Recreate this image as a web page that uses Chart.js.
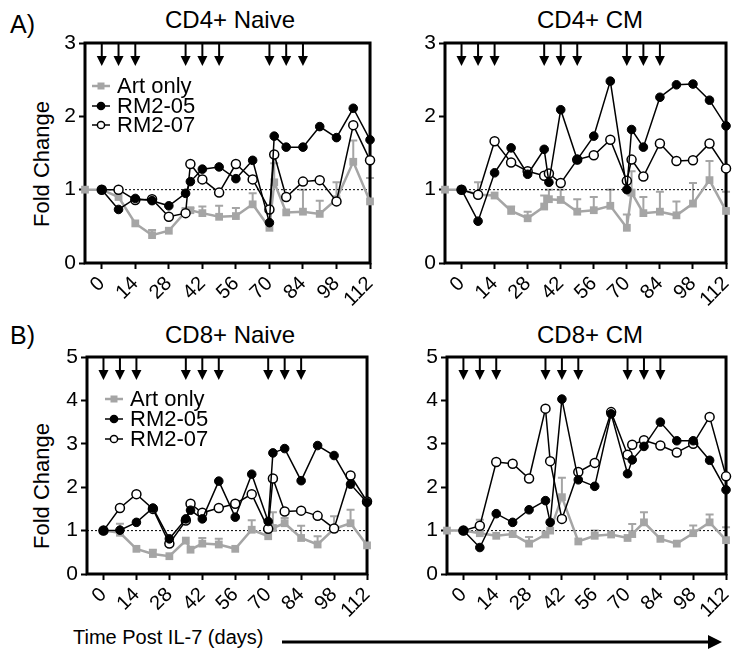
<!DOCTYPE html>
<html>
<head>
<meta charset="utf-8">
<script src="https://cdn.jsdelivr.net/npm/chart.js@4.4.1/dist/chart.umd.min.js"></script>
<style>
body { margin: 0; background: #fff; font-family: "Liberation Sans", Arial, sans-serif; }
#page { position: relative; width: 746px; height: 656px; overflow: hidden; background: #fff; }
.box { position: absolute; }
.txt { position: absolute; white-space: nowrap; line-height: 1; color: #000; }
.title { font-size: 24px; text-align: center; width: 260px; }
</style>
</head>
<body>
<div id="page">
  <div class="txt" style="left:10px;top:12px;font-size:25px;">A)</div>
  <div class="txt" style="left:10px;top:323px;font-size:25px;">B)</div>

  <div class="txt title" style="left:100px;top:8px;">CD4+ Naive</div>
  <div class="txt title" style="left:460px;top:8px;">CD4+ CM</div>
  <div class="txt title" style="left:100px;top:323px;">CD8+ Naive</div>
  <div class="txt title" style="left:460px;top:323px;">CD8+ CM</div>

  <div class="txt" style="left:42px;top:164px;font-size:22px;transform:translate(-50%,-50%) rotate(-90deg);">Fold Change</div>
  <div class="txt" style="left:42px;top:486px;font-size:22px;transform:translate(-50%,-50%) rotate(-90deg);">Fold Change</div>

  <div class="txt" style="left:73px;top:627px;font-size:20px;">Time Post IL-7 (days)</div>
  <svg class="box" style="left:280px;top:630px;" width="450" height="24">
    <line x1="2" y1="12" x2="432" y2="12" stroke="#000" stroke-width="3"/>
    <polygon points="428,5 442,12 428,19" fill="#000"/>
  </svg>

  <div class="box" style="left:40px;top:25px;width:350px;height:300px;"><canvas id="cd4Naive"></canvas></div>
  <div class="box" style="left:400px;top:25px;width:346px;height:300px;"><canvas id="cd4CM"></canvas></div>
  <div class="box" style="left:42px;top:339px;width:345px;height:297px;"><canvas id="cd8Naive"></canvas></div>
  <div class="box" style="left:402px;top:339px;width:344px;height:297px;"><canvas id="cd8CM"></canvas></div>
</div>

<script>
const days = [-7, 0, 7, 14, 21, 28, 35, 37, 42, 49, 56, 63, 70, 72, 77, 84, 91, 98, 105, 112];
const xTicks = [0, 14, 28, 42, 56, 70, 84, 98, 112];
const doseDays = [0, 7, 14, 35, 42, 49, 70, 77, 84];

// CD4+ Naive
const cd4NaiveArt = [1.0, 1.0, 0.90, 0.54, 0.38, 0.44, 0.70, 0.72, 0.68, 0.63, 0.64, 0.80, 0.48, 1.10, 0.69, 0.70, 0.67, 0.87, 1.38, 0.84];
const cd4NaiveArtErr = [null, null, null, null, 0.45, null, 0.75, 0.75, 0.77, 0.78, 0.75, 0.95, null, 1.36, null, 1.0, 0.85, 1.1, 1.67, 1.16];
const cd4Naive05 = [null, 1.0, 0.73, 0.88, 0.85, 0.78, 0.95, 1.11, 1.28, 1.31, 1.15, 1.40, 0.55, 1.73, 1.58, 1.58, 1.86, 1.71, 2.11, 1.68];
const cd4Naive07 = [null, 1.0, 1.0, 0.86, 0.87, 0.63, 0.68, 1.35, 1.14, 0.96, 1.35, 1.14, 0.73, 1.48, 0.90, 1.11, 1.13, 0.84, 1.88, 1.40];

// CD4+ CM
const cd4CMArt = [1.0, 1.0, 0.93, 0.92, 0.71, 0.61, 0.77, 0.87, 0.86, 0.70, 0.72, 0.78, 0.48, 0.96, 0.68, 0.70, 0.65, 0.81, 1.13, 0.71];
const cd4CMArtErr = [null, null, 1.1, null, 0.77, 0.70, 0.92, 1.0, 1.0, 0.87, 0.90, 1.0, 0.66, 1.25, 0.90, 0.97, 0.84, 1.09, 1.39, 0.97];
const cd4CM05 = [null, 1.0, 0.57, 1.23, 1.57, 1.21, 1.55, 1.10, 2.09, 1.41, 1.73, 2.48, 1.0, 1.82, 1.58, 2.26, 2.43, 2.44, 2.22, 1.87];
const cd4CM07 = [null, 1.0, 0.93, 1.66, 1.37, 1.25, 1.19, 1.22, 1.09, 1.41, 1.47, 1.68, 1.12, 1.41, 1.18, 1.63, 1.39, 1.40, 1.63, 1.29];

// CD8+ Naive
const cd8NaiveArt = [null, 1.0, 0.95, 0.58, 0.46, 0.41, 0.77, 0.56, 0.70, 0.68, 0.58, 1.02, 0.87, 1.06, 1.17, 0.83, 0.68, 1.04, 1.17, 0.66];
const cd8NaiveArtErr = [null, null, 1.16, null, 0.56, null, null, null, 0.83, 0.81, null, 1.24, null, 1.42, 1.29, 1.11, 0.87, 1.33, 1.48, null];
const cd8Naive05 = [null, 1.0, 1.01, 1.19, 1.52, 0.81, 1.27, 1.47, 1.27, 2.14, 1.31, 2.30, 1.21, 2.79, 2.89, 2.15, 2.96, 2.73, 2.07, 1.65];
const cd8Naive07 = [null, 1.0, 1.52, 1.84, 1.50, 0.70, 1.23, 1.62, 1.41, 1.52, 1.62, 1.84, 1.04, 2.20, 1.44, 1.46, 1.34, 1.05, 2.27, 1.67];

// CD8+ CM
const cd8CMArt = [1.0, 1.0, 0.94, 0.88, 0.92, 0.70, 0.91, 1.0, 1.77, 0.75, 0.88, 0.91, 0.83, 0.92, 1.19, 0.81, 0.70, 0.94, 1.19, 0.78];
const cd8CMArtErr = [null, null, 1.25, null, null, 0.85, null, null, 2.22, null, 1.0, null, null, 1.15, 1.42, null, null, 1.12, 1.37, 1.08];
const cd8CM05 = [null, 1.0, 0.61, 1.39, 1.19, 1.48, 1.69, 1.19, 4.03, 2.17, 2.02, 3.69, 2.31, 2.63, 2.94, 3.50, 3.07, 3.07, 2.62, 1.94];
const cd8CM07 = [null, 1.0, 1.11, 2.58, 2.54, 2.20, 3.81, 2.60, 1.27, 2.35, 2.56, 3.73, 2.75, 2.98, 3.08, 2.96, 2.80, 3.00, 3.62, 2.25];

const GRAY = '#a5a5a5';
Chart.defaults.font.family = '"Liberation Sans", Arial, sans-serif';
Chart.defaults.color = '#000';

const pts = vals => days.map((d, i) => ({ x: d, y: vals[i] })).filter(p => p.y !== null);

// frame, dose arrows, error bars and in-plot legend
const decor = {
  id: 'decor',
  beforeDatasetsDraw(chart, args, opts) {
    const { ctx, chartArea: a, scales: { x, y } } = chart;
    ctx.save();
    // error bars (upper only)
    ctx.strokeStyle = GRAY;
    ctx.lineWidth = 2;
    opts.err.forEach((hi, i) => {
      if (hi === null || opts.art[i] === null) return;
      const px = x.getPixelForValue(days[i]);
      const y0 = y.getPixelForValue(opts.art[i]);
      const y1 = y.getPixelForValue(hi);
      ctx.beginPath();
      ctx.moveTo(px, y0); ctx.lineTo(px, y1);
      ctx.moveTo(px - 4, y1); ctx.lineTo(px + 4, y1);
      ctx.stroke();
    });
    // frame
    ctx.strokeStyle = '#000';
    ctx.lineWidth = 3;
    ctx.strokeRect(a.left, a.top, a.right - a.left, a.bottom - a.top);
    // arrows
    ctx.lineWidth = 2;
    ctx.fillStyle = '#000';
    doseDays.forEach(d => {
      const px = x.getPixelForValue(d);
      ctx.beginPath();
      ctx.moveTo(px, a.top); ctx.lineTo(px, a.top + 15);
      ctx.stroke();
      ctx.beginPath();
      ctx.moveTo(px - 5, a.top + 13); ctx.lineTo(px + 5, a.top + 13); ctx.lineTo(px, a.top + 23);
      ctx.closePath();
      ctx.fill();
    });
    ctx.restore();
  },
  afterDatasetsDraw(chart, args, opts) {
    if (!opts.legend) return;
    const { ctx, chartArea: a } = chart;
    const L = opts.legend;
    const names = ['Art only', 'RM2-05', 'RM2-07'];
    ctx.save();
    ctx.font = '22px "Liberation Sans", Arial, sans-serif';
    ctx.textBaseline = 'middle';
    names.forEach((name, i) => {
      const yy = a.top + L.rows[i];
      const x0 = a.left + L.dx;
      ctx.strokeStyle = i === 0 ? GRAY : '#000';
      ctx.lineWidth = i === 0 ? 2.5 : 1.5;
      ctx.beginPath();
      ctx.moveTo(x0, yy); ctx.lineTo(x0 + 18, yy);
      ctx.stroke();
      const mx = x0 + 9;
      if (i === 0) {
        ctx.fillStyle = GRAY;
        ctx.fillRect(mx - 3.5, yy - 3.5, 7, 7);
      } else {
        ctx.beginPath();
        ctx.arc(mx, yy, 3.6, 0, Math.PI * 2);
        ctx.fillStyle = i === 1 ? '#000' : '#fff';
        ctx.fill();
        ctx.stroke();
      }
      ctx.fillStyle = '#000';
      ctx.fillText(name, x0 + 25, yy + 1);
    });
    ctx.restore();
  }
};

function makePanel(id, yMax, art, artErr, r05, r07, legend, padRight) {
  const tickGrid = { display: true, drawOnChartArea: false, drawTicks: true, tickLength: 6, tickWidth: 2, color: '#000' };
  new Chart(document.getElementById(id), {
    type: 'line',
    data: {
      datasets: [
        { label: 'RM2-05', data: pts(r05), borderColor: '#000', backgroundColor: '#000', borderWidth: 1.5,
          pointRadius: 4.3, pointBorderWidth: 1, pointBackgroundColor: '#000', order: 1, clip: false },
        { label: 'RM2-07', data: pts(r07), borderColor: '#000', backgroundColor: '#fff', borderWidth: 1.5,
          pointRadius: 4.5, pointBorderWidth: 1.5, pointBackgroundColor: '#fff', order: 2, clip: false },
        { label: 'Art only', data: pts(art), borderColor: GRAY, backgroundColor: GRAY, borderWidth: 2.5,
          pointStyle: 'rect', pointRadius: 5.5, pointBorderWidth: 0, order: 3, clip: false },
        { label: 'baseline', data: [{ x: -7, y: 1 }, { x: 112, y: 1 }], borderColor: '#000', borderWidth: 1,
          borderDash: [2, 2], pointRadius: 0, order: 4 }
      ]
    },
    options: {
      responsive: true,
      maintainAspectRatio: false,
      animation: false,
      events: [],
      layout: { padding: { top: 18, right: padRight, left: 0, bottom: 0 } },
      plugins: {
        legend: { display: false },
        tooltip: { enabled: false },
        decor: { art: art, err: artErr, legend: legend }
      },
      scales: {
        x: {
          type: 'linear', min: -7, max: 112,
          afterBuildTicks: s => { s.ticks = xTicks.map(v => ({ value: v })); },
          afterFit: s => { s.height = 62; },
          ticks: { autoSkip: false, minRotation: 45, maxRotation: 45, padding: 3, color: '#000', font: { size: 20 } },
          grid: tickGrid,
          border: { display: false }
        },
        y: {
          min: 0, max: yMax,
          afterFit: s => { s.width = 45; },
          ticks: { stepSize: 1, padding: 3, color: '#000', font: { size: 21 } },
          grid: tickGrid,
          border: { display: false }
        }
      }
    },
    plugins: [decor]
  });
}

makePanel('cd4Naive', 3, cd4NaiveArt, cd4NaiveArtErr, cd4Naive05, cd4Naive07, { dx: 7, rows: [43, 63, 82] }, 15);
makePanel('cd4CM', 3, cd4CMArt, cd4CMArtErr, cd4CM05, cd4CM07, null, 11);
makePanel('cd8Naive', 5, cd8NaiveArt, cd8NaiveArtErr, cd8Naive05, cd8Naive07, { dx: 18, rows: [42, 62, 82] }, 15);
makePanel('cd8CM', 5, cd8CMArt, cd8CMArtErr, cd8CM05, cd8CM07, null, 12);
</script>
</body>
</html>
